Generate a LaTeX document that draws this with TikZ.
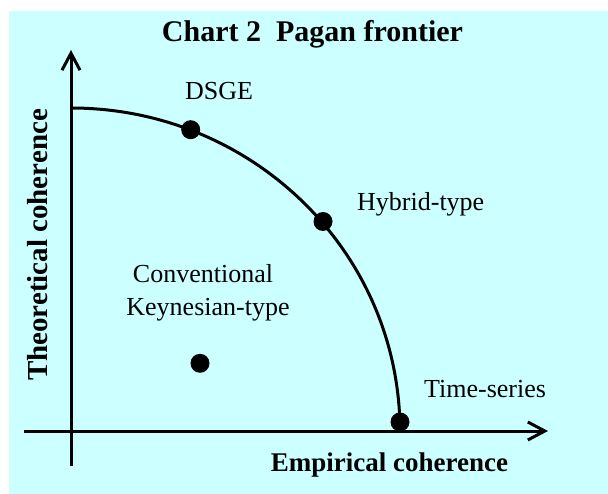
\documentclass[tikz,border=0pt]{standalone}
\usepackage{fontspec}
\setmainfont{Liberation Serif}
\usetikzlibrary{arrows.meta}
\definecolor{bgcyan}{HTML}{CCFFFF}
\tikzset{
  axis/.style={line width=3pt, -{Straight Barb[length=17pt,width=18pt,line width=3pt]}},
  frontier/.style={line width=3pt},
  dot/.style={circle, fill=black, inner sep=0pt, minimum size=19pt},
  lbl/.style={font=\fontsize{26}{30}\selectfont, inner sep=0pt, anchor=base west},
  bigl/.style={font=\bfseries\fontsize{27}{31}\selectfont, inner sep=0pt, anchor=base},
  ttl/.style={font=\bfseries\fontsize{30}{34}\selectfont, inner sep=0pt, anchor=base}
}
\begin{document}
\begin{tikzpicture}[x=1pt,y=1pt]
\useasboundingbox (0,0) rectangle (608,-494);
\fill[bgcyan] (9,-11) rectangle (608,-494);
% axes
\coordinate (ybot) at (71,-466);
\coordinate (ytop) at (71,-50);
\coordinate (xleft) at (24,-431);
\coordinate (xright) at (548,-431);
\draw[axis] (ybot) -- (ytop);
\draw[axis] (xleft) -- (xright);
% frontier
\coordinate (ftop) at (71,-108);
\draw[frontier] (ftop) arc[start angle=90, end angle=1.6, x radius=329pt, y radius=323pt] coordinate (fend);
% dots
\node[dot] (dsge) at (190.7,-129.7) {};
\node[dot] (hybrid) at (323,-221.5) {};
\node[dot] (conv) at (200,-363.3) {};
\node[dot] (ts) at (400,-422) {};
% labels
\node[ttl] (title) at (312.5,-42) {Chart 2\ \ Pagan frontier};
\node[lbl] (ldsge) at (185,-100) {DSGE};
\node[lbl] (lhyb) at (357,-211) {Hybrid-type};
\node[lbl, anchor=base] (lconv1) at (203,-283) {Conventional};
\node[lbl, anchor=base] (lconv2) at (208,-316) {Keynesian-type};
\node[lbl] (lts) at (424,-397) {Time-series};
\node[bigl] (lx) at (389.5,-471) {Empirical coherence};
\node[bigl, rotate=90, font=\bfseries\fontsize{29}{33}\selectfont] (ly) at (47,-245) {Theoretical coherence};
\end{tikzpicture}
\end{document}
